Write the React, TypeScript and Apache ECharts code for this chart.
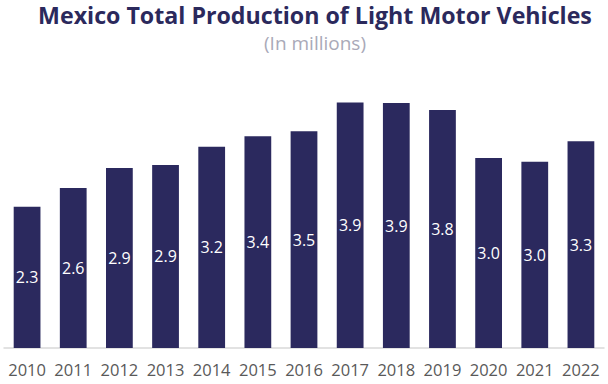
import React, { useEffect, useRef } from "react";
import * as echarts from "echarts";

const years = ["2010","2011","2012","2013","2014","2015","2016","2017","2018","2019","2020","2021","2022"];
const production = [2.26, 2.56, 2.88, 2.93, 3.22, 3.39, 3.47, 3.93, 3.92, 3.81, 3.04, 2.98, 3.31];
const titleText = "Mexico Total Production of Light Motor Vehicles";
const subtitleText = "(In millions)";

export default function App() {
  const ref = useRef<HTMLDivElement>(null);
  useEffect(() => {
    document.body.style.margin = "0";
    const chart = echarts.init(ref.current!, null, { renderer: "svg" });
    chart.setOption({
      animation: false,
      graphic: [
        {
          type: "text",
          x: 315,
          y: 15,
          style: {
            text: titleText,
            fontFamily: "Open Sans",
            fontWeight: "bold",
            fontSize: 23.2,
            fill: "#2b295c",
            textAlign: "center",
            textVerticalAlign: "middle",
          },
        },
        {
          type: "text",
          x: 315,
          y: 43,
          style: {
            text: subtitleText,
            fontFamily: "Open Sans",
            fontSize: 19,
            fill: "#a9a9b8",
            textAlign: "center",
            textVerticalAlign: "middle",
          },
        },
      ],
      grid: { left: 4, right: 4, top: 98, bottom: 36, containLabel: false },
      xAxis: {
        type: "category",
        data: years,
        axisLine: { lineStyle: { color: "#d9d9d9", width: 1.5 } },
        axisTick: { show: false },
        axisLabel: { fontFamily: "Open Sans", fontSize: 16.5, color: "#595959", margin: 13, interval: 0 },
      },
      yAxis: { type: "value", min: 0, max: 4, show: false, splitLine: { show: false } },
      series: [
        {
          type: "bar",
          data: production,
          barWidth: "58%",
          itemStyle: { color: "#2b295e" },
          label: {
            show: true,
            position: "inside",
            color: "#ffffff",
            fontFamily: "Open Sans",
            fontSize: 16,
            formatter: (p: any) => Number(p.value).toFixed(1),
          },
        },
      ],
    });
    return () => chart.dispose();
  }, []);
  return <div ref={ref} style={{ width: 608, height: 384 }} />;
}
